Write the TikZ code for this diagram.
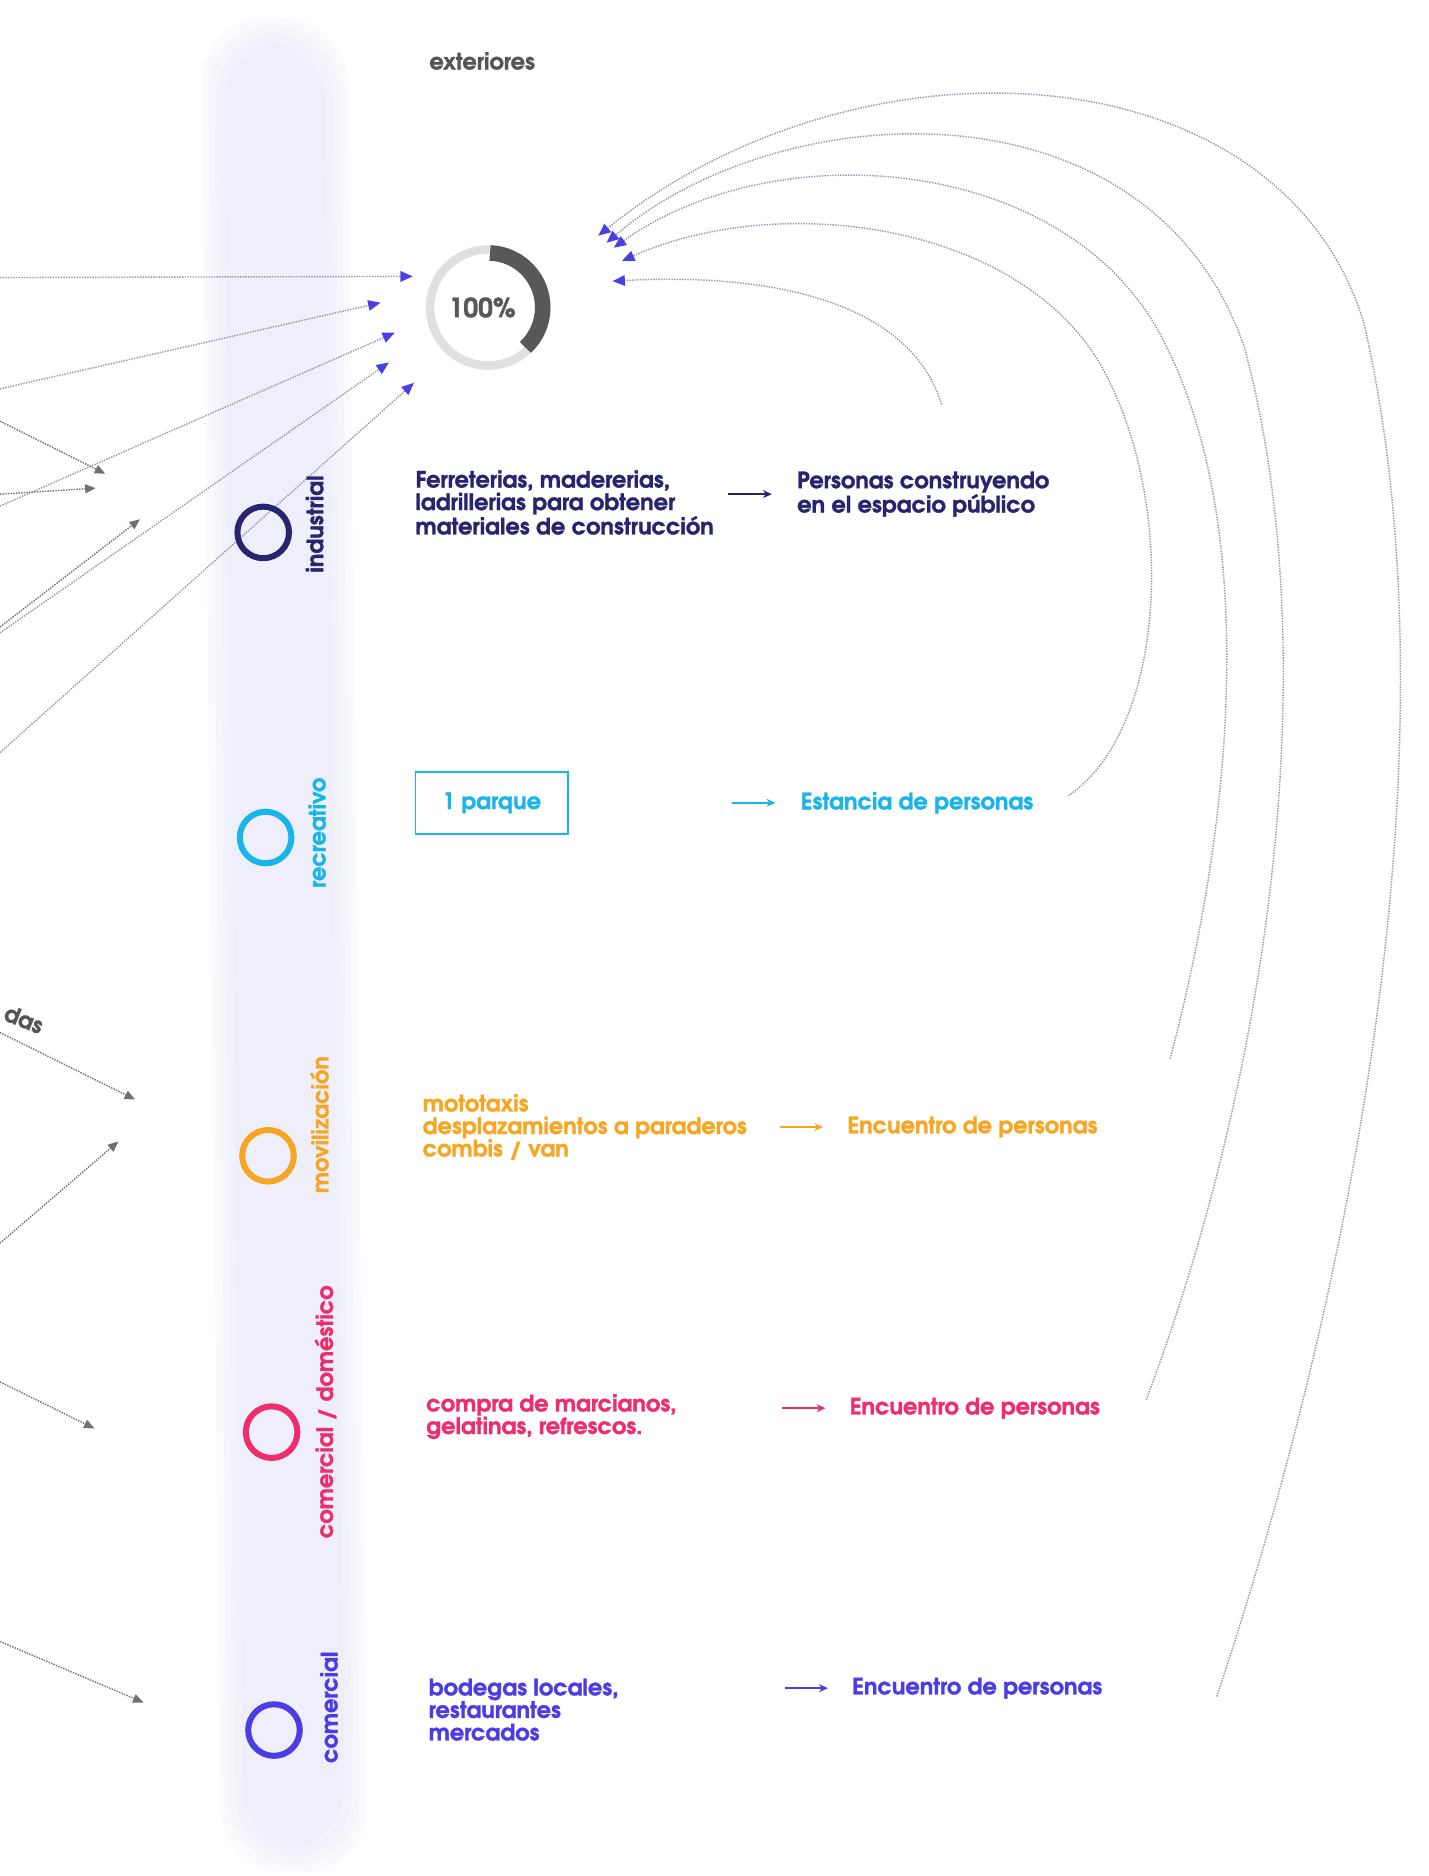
\documentclass[tikz,border=0pt]{standalone}
\usepackage{fontspec}
\IfFontExistsTF{texgyreadventor-bold.otf}
  {\setmainfont{texgyreadventor-bold}[Extension=.otf, FakeBold=1.2]}
  {\setmainfont{Poppins}[UprightFont=* SemiBold]}
\usepackage{xcolor}
\definecolor{cIndustrial}{HTML}{27256E}
\definecolor{cRecreativo}{HTML}{19B5E9}
\definecolor{cMovilizacion}{HTML}{F6A623}
\definecolor{cComDom}{HTML}{EE2D6D}
\definecolor{cComercial}{HTML}{4C3CE4}
\definecolor{flujoAzul}{HTML}{4A3FE0}
\definecolor{flujoLinea}{HTML}{9696B0}
\definecolor{flechaGris}{HTML}{707070}
\definecolor{textoGris}{HTML}{555555}
\definecolor{anilloClaro}{HTML}{E0E0E0}
\definecolor{anilloOscuro}{HTML}{585858}
\definecolor{banda}{HTML}{EEEFFB}
\usepackage{tikz}
\usetikzlibrary{arrows.meta}
\usetikzlibrary{positioning}
\tikzstyle{letra} = [font={\fontsize{12.8}{12.8}\selectfont}]
\tikzstyle{uso} = [circle, draw, line width=0.12cm, minimum size=1.03cm, inner sep=0pt]
\tikzstyle{etiqueta} = [letra, rotate=90, inner sep=0pt]
\tikzstyle{detalle} = [letra, anchor=west, align=left, inner sep=0pt]
\tikzstyle{efecto} = [letra, anchor=west, align=left, inner sep=0pt]
\tikzstyle{caja} = [letra, draw, line width=0.9pt, minimum width=3.04cm, minimum height=1.24cm]
\tikzstyle{flecha} = [-{Stealth[length=5pt, width=4.5pt]}, line width=1.1pt]
\tikzstyle{flujo} = [draw=flujoLinea, line width=0.8pt, dash pattern=on 0.8pt off 0.7pt,
        -{Triangle[color=flujoAzul, length=7pt, width=6pt]}]
\tikzstyle{flujoGris} = [draw=flechaGris, line width=0.8pt, dash pattern=on 0.8pt off 0.7pt,
        -{Triangle[color=flechaGris, length=6pt, width=5pt]}]

\begin{document}
\begin{tikzpicture}[x=0.0239cm, y=-0.0239cm]
    \fill[white] (0,0) rectangle (1194,1568);
    \useasboundingbox (0,0) rectangle (1194,1568);
    \foreach \d/\o in {0/0.25, 6/0.35, 12/0.5, 18/0.75}
        \fill[banda, opacity=\o, rounded corners=1.3cm] (168+\d,15+\d) -- (290-\d,15+\d) -- (307-\d,1565-\d) -- (185+\d,1565-\d) -- cycle;

    \node[letra, text=textoGris] (ext) at (403,51) {exteriores};
    \coordinate (centro) at (408,257);
    \draw[anilloClaro, line width=0.17cm] (centro) circle[radius=1.16cm];
    \draw[anilloOscuro, line width=0.31cm] ([shift={(88:1.09cm)}]centro) arc[start angle=88, end angle=-47, radius=1.09cm];
    \node[font={\fontsize{15}{15}\selectfont}, text=anilloOscuro] (pct) at (403,257) {100\%};

    \coordinate (izqA) at (0,232);   \coordinate (llegaA) at (345,231);
    \coordinate (izqB) at (0,325);   \coordinate (llegaB) at (318,253);
    \coordinate (izqC) at (0,423);   \coordinate (llegaC) at (330,278);
    \coordinate (izqD) at (0,529);   \coordinate (llegaD) at (325,303);
    \coordinate (izqE) at (0,629);   \coordinate (llegaE) at (346,320);
    \draw[flujo] (izqA) -- (llegaA);
    \draw[flujo] (izqB) -- (llegaB);
    \draw[flujo] (izqC) -- (llegaC);
    \draw[flujo] (izqD) -- (llegaD);
    \draw[flujo] (izqE) -- (llegaE);

    \coordinate (finA) at (787,338);   \coordinate (vuelveA) at (512,235);
    \coordinate (finB) at (893,665);   \coordinate (vuelveB) at (520,218);
    \coordinate (finC) at (978,885);   \coordinate (vuelveC) at (513,207);
    \coordinate (finD) at (958,1170);  \coordinate (vuelveD) at (507,203);
    \coordinate (finE) at (1017,1418); \coordinate (vuelveE) at (500,197);
    \draw[flujo] (finA) .. controls (760,250) and (640,228) .. (vuelveA);
    \draw[flujo] (finB) .. controls (975,610) and (985,420) .. (920,305) .. controls (850,185) and (650,160) .. (vuelveB);
    \draw[flujo] (finC) .. controls (1040,650) and (1045,420) .. (970,280) .. controls (890,130) and (650,110) .. (vuelveC);
    \draw[flujo] (finD) .. controls (1060,900) and (1110,550) .. (1040,290) .. controls (960,60) and (650,80) .. (vuelveD);
    \draw[flujo] (finE) .. controls (1130,1080) and (1220,620) .. (1140,270) .. controls (1070,40) and (720,20) .. (vuelveE);

    \coordinate (grisA) at (0,352);  \coordinate (puntaA) at (88,396);
    \coordinate (grisB) at (0,413);  \coordinate (puntaB) at (80,408);
    \coordinate (grisC) at (0,524);  \coordinate (puntaC) at (117,434);
    \coordinate (grisD) at (0,863);  \coordinate (puntaD) at (113,919);
    \coordinate (grisE) at (0,1039); \coordinate (puntaE) at (99,954);
    \coordinate (grisF) at (0,1155); \coordinate (puntaF) at (79,1194);
    \coordinate (grisG) at (0,1372); \coordinate (puntaG) at (120,1423);
    \draw[flujoGris] (grisA) -- (puntaA);
    \draw[flujoGris] (grisB) -- (puntaB);
    \draw[flujoGris] (grisC) -- (puntaC);
    \draw[flujoGris] (grisD) -- (puntaD);
    \draw[flujoGris] (grisE) -- (puntaE);
    \draw[flujoGris] (grisF) -- (puntaF);
    \draw[flujoGris] (grisG) -- (puntaG);
    \node[letra, text=textoGris, rotate=-22] (das) at (20,852) {das};

    \node[uso, draw=cIndustrial] (industrial) at (220,445) {};
    \node[etiqueta, text=cIndustrial] (labIndustrial) at (263,438) {industrial};
    \node[detalle, text=cIndustrial] (fuenteIndustrial) at (347,420) {Ferreterias, madererias,\\ladrillerias para obtener\\materiales de construcción};
    \node[efecto, text=cIndustrial] (efectoIndustrial) at (666,413) {Personas construyendo\\en el espacio público};
    \draw[flecha, cIndustrial] ([xshift=-1.38cm]efectoIndustrial.west) -- ([xshift=-0.5cm]efectoIndustrial.west);

    \node[uso, draw=cRecreativo] (recreativo) at (222,700) {};
    \node[etiqueta, text=cRecreativo] (labRecreativo) at (265,696) {recreativo};
    \node[caja, draw=cRecreativo, text=cRecreativo] (fuenteRecreativo) at (411,671) {1 parque};
    \node[efecto, text=cRecreativo] (efectoRecreativo) at (669,671) {Estancia de personas};
    \draw[flecha, cRecreativo] ([xshift=-1.36cm]efectoRecreativo.west) -- ([xshift=-0.5cm]efectoRecreativo.west);

    \node[uso, draw=cMovilizacion] (movilizacion) at (224,966) {};
    \node[etiqueta, text=cMovilizacion] (labMovilizacion) at (267,940) {movilización};
    \node[detalle, text=cMovilizacion] (fuenteMovilizacion) at (353,942) {mototaxis\\desplazamientos a paraderos\\combis / van};
    \node[efecto, text=cMovilizacion] (efectoMovilizacion) at (708,942) {Encuentro de personas};
    \draw[flecha, cMovilizacion] ([xshift=-1.34cm]efectoMovilizacion.west) -- ([xshift=-0.48cm]efectoMovilizacion.west);

    \node[uso, draw=cComDom] (comdom) at (227,1197) {};
    \node[etiqueta, text=cComDom] (labComDom) at (272,1180) {comercial / doméstico};
    \node[detalle, text=cComDom] (fuenteComDom) at (356,1184) {compra de marcianos,\\gelatinas, refrescos.};
    \node[efecto, text=cComDom] (efectoComDom) at (710,1177) {Encuentro de personas};
    \draw[flecha, cComDom] ([xshift=-1.34cm]efectoComDom.west) -- ([xshift=-0.48cm]efectoComDom.west);

    \node[uso, draw=cComercial] (comercial) at (229,1446) {};
    \node[etiqueta, text=cComercial] (labComercial) at (275,1427) {comercial};
    \node[detalle, text=cComercial] (fuenteComercial) at (358,1429) {bodegas locales,\\restaurantes\\mercados};
    \node[efecto, text=cComercial] (efectoComercial) at (712,1411) {Encuentro de personas};
    \draw[flecha, cComercial] ([xshift=-1.34cm]efectoComercial.west) -- ([xshift=-0.48cm]efectoComercial.west);
\end{tikzpicture}
\end{document}
